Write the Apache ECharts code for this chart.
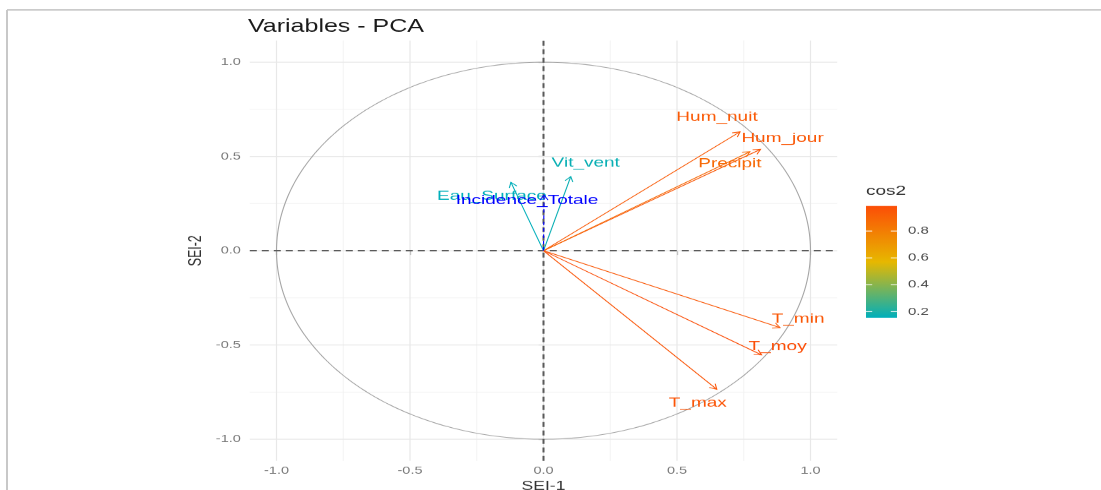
<!DOCTYPE html>
<html>
<head>
<meta charset="utf-8">
<title>Variables - PCA</title>
<script src="https://cdn.jsdelivr.net/npm/echarts@6/dist/echarts.min.js"></script>
<style>
  html, body { margin: 0; padding: 0; background: #fff; overflow: hidden; }
  /* the figure is drawn in an un-squashed frame and flattened vertically,
     so the correlation circle shows as an ellipse */
  #chart { width: 1101px; height: 694px; transform: scaleY(0.706); transform-origin: 0 0; }
</style>
</head>
<body>
<div id="chart"></div>
<script>
// Active variables: coordinates on the first two dimensions and their cos2
const varNames = ['Hum_nuit', 'Hum_jour', 'Precipit', 'Vit_vent', 'Eau_Surface', 'T_min', 'T_moy', 'T_max'];
const dim1 = [0.736, 0.813, 0.773, 0.102, -0.122, 0.886, 0.817, 0.649];
const dim2 = [0.631, 0.538, 0.525, 0.393, 0.363, -0.408, -0.553, -0.735];
const cos2 = [0.94, 0.95, 0.88, 0.17, 0.155, 0.95, 0.986, 0.96];

// Supplementary quantitative variable
const supNames = ['Incidence_Totale'];
const supDim1 = [0.002];
const supDim2 = [0.295];

// Axis breaks and colour-bar ticks
const majorBreaks = [-1.0, -0.5, 0.0, 0.5, 1.0];
const minorBreaks = [-0.75, -0.25, 0.25, 0.75];
const legendTicks = [0.2, 0.4, 0.6, 0.8];
const cosRange = [0.155, 0.986];

// ---- layout / style settings ----
const FONT = '"Liberation Sans", Arial, Helvetica, sans-serif';
const xLimits = [-1.1, 1.1];
const yLimits = [-1.115, 1.115];
const palette = ['#00AFBB', '#E7B800', '#FC4E07'];
const supColor = '#0000FF';
const labelSize = 19;
// label offsets (px) from the arrow tip
const labelNudge = {
  Hum_nuit: [-23, -21], Hum_jour: [22, -16], Precipit: [-20, 17],
  Vit_vent: [15, -19], Eau_Surface: [-19, 20],
  T_min: [18, -12], T_moy: [16, -12], T_max: [-19, 19],
  Incidence_Totale: [-17, 7]
};

const activeData = varNames.map((n, i) => [dim1[i], dim2[i], cos2[i]]);
const supData = supNames.map((n, i) => [supDim1[i], supDim2[i]]);

function arrowShapes(api, x, y, name, color, dashed) {
  const p0 = api.coord([0, 0]);
  const p1 = api.coord([x, y]);
  const ang = Math.atan2(p1[1] - p0[1], p1[0] - p0[0]);
  const L = 8, a = Math.PI / 6;
  const w1 = [p1[0] - L * Math.cos(ang - a), p1[1] - L * Math.sin(ang - a)];
  const w2 = [p1[0] - L * Math.cos(ang + a), p1[1] - L * Math.sin(ang + a)];
  const lineStyle = { stroke: color, lineWidth: 1.1, fill: null };
  if (dashed) lineStyle.lineDash = [5, 4];
  const nudge = labelNudge[name] || [0, 0];
  return [
    { type: 'line', shape: { x1: p0[0], y1: p0[1], x2: p1[0], y2: p1[1] }, style: lineStyle },
    { type: 'polyline', shape: { points: [w1, p1, w2] }, style: { stroke: color, lineWidth: 1.1, fill: null } },
    { type: 'text', x: p1[0] + nudge[0], y: p1[1] + nudge[1],
      style: { text: name, fill: color, font: labelSize + 'px ' + FONT,
               align: 'center', verticalAlign: 'middle',
               textAlign: 'center', textVerticalAlign: 'middle' } }
  ];
}

const chart = echarts.init(document.getElementById('chart'), null, { renderer: 'canvas' });

const option = {
  animation: false,
  backgroundColor: '#ffffff',
  title: {
    text: 'Variables - PCA', left: 248, top: 26, padding: 0,
    textStyle: { fontFamily: FONT, fontSize: 25, fontWeight: 'normal', color: '#1a1a1a' }
  },
  graphic: [
    { type: 'line', shape: { x1: 7, y1: 14, x2: 1101, y2: 14 }, style: { stroke: '#c8c8c8', lineWidth: 2 } },
    { type: 'line', shape: { x1: 7, y1: 14, x2: 7, y2: 694 }, style: { stroke: '#c8c8c8', lineWidth: 2 } },
    { type: 'text', left: 866, top: 261, style: { text: 'cos2', font: '19px ' + FONT, fill: '#333333' } }
  ],
  visualMap: {
    type: 'continuous', show: false, seriesIndex: 3, dimension: 2,
    min: cosRange[0], max: cosRange[1], inRange: { color: palette }
  },
  grid: [
    { left: 249.8, top: 57.4, width: 587.4, height: 595.4, outerBoundsMode: 'none', containLabel: false },
    { left: 866, top: 291.8, width: 31, height: 158.2, outerBoundsMode: 'none', containLabel: false }
  ],
  xAxis: [
    {
      type: 'value', gridIndex: 0, min: xLimits[0], max: xLimits[1],
      name: 'SEI-1', nameLocation: 'middle', nameGap: 27,
      nameTextStyle: { fontFamily: FONT, fontSize: 17.5, color: '#333333', verticalAlign: 'top' },
      axisLine: { show: false },
      axisTick: { show: true, customValues: majorBreaks, length: 6, lineStyle: { color: '#8c8c8c', width: 1.2 } },
      axisLabel: { customValues: majorBreaks, margin: 7, fontFamily: FONT, fontSize: 14.5, color: '#7a7a7a',
                   formatter: v => v.toFixed(1) },
      splitLine: { show: false }
    },
    { type: 'value', gridIndex: 1, min: 0, max: 1, show: false }
  ],
  yAxis: [
    {
      type: 'value', gridIndex: 0, min: yLimits[0], max: yLimits[1],
      name: 'SEI-2', nameLocation: 'middle', nameGap: 45, nameRotate: 90,
      nameTextStyle: { fontFamily: FONT, fontSize: 17.5, color: '#333333' },
      axisLine: { show: false },
      axisTick: { show: true, customValues: majorBreaks, length: 5, lineStyle: { color: '#8c8c8c', width: 1.2 } },
      axisLabel: { customValues: majorBreaks, margin: 9, fontFamily: FONT, fontSize: 14.5, color: '#7a7a7a',
                   formatter: v => v.toFixed(1) },
      splitLine: { show: false }
    },
    {
      type: 'value', gridIndex: 1, min: cosRange[0], max: cosRange[1], position: 'right',
      axisLine: { show: false }, axisTick: { show: false }, splitLine: { show: false },
      axisLabel: { customValues: legendTicks, margin: 11, fontFamily: FONT, fontSize: 15, color: '#4d4d4d',
                   formatter: v => v.toFixed(1) }
    }
  ],
  series: [
    // panel grid lines
    {
      type: 'custom', xAxisIndex: 0, yAxisIndex: 0, silent: true, data: [[0, 0]],
      renderItem: (params, api) => {
        const children = [];
        const add = (vals, color, width) => vals.forEach(v => {
          const a = api.coord([v, yLimits[0]]), b = api.coord([v, yLimits[1]]);
          children.push({ type: 'line', shape: { x1: a[0], y1: a[1], x2: b[0], y2: b[1] }, style: { stroke: color, lineWidth: width } });
          const c = api.coord([xLimits[0], v]), d = api.coord([xLimits[1], v]);
          children.push({ type: 'line', shape: { x1: c[0], y1: c[1], x2: d[0], y2: d[1] }, style: { stroke: color, lineWidth: width } });
        });
        add(minorBreaks, '#f2f2f2', 0.9);
        add(majorBreaks, '#e8e8e8', 1.2);
        return { type: 'group', children };
      }
    },
    // correlation circle
    {
      type: 'custom', xAxisIndex: 0, yAxisIndex: 0, silent: true, data: [[0, 0]],
      renderItem: (params, api) => {
        const pts = [];
        for (let k = 0; k <= 360; k++) {
          const t = k * Math.PI / 180;
          pts.push(api.coord([Math.cos(t), Math.sin(t)]));
        }
        return { type: 'polyline', shape: { points: pts }, style: { stroke: '#a6a6a6', lineWidth: 1.1, fill: null } };
      }
    },
    // dashed zero lines
    {
      type: 'custom', xAxisIndex: 0, yAxisIndex: 0, silent: true, data: [[0, 0]],
      renderItem: (params, api) => {
        const a = api.coord([xLimits[0], 0]), b = api.coord([xLimits[1], 0]);
        const c = api.coord([0, yLimits[0]]), d = api.coord([0, yLimits[1]]);
        const st = { stroke: '#5a5a5a', lineWidth: 2, lineDash: [7, 5] };
        return { type: 'group', children: [
          { type: 'line', shape: { x1: a[0], y1: a[1], x2: b[0], y2: b[1] }, style: st },
          { type: 'line', shape: { x1: c[0], y1: c[1], x2: d[0], y2: d[1] }, style: st }
        ] };
      }
    },
    // active variables, coloured by cos2
    {
      type: 'custom', xAxisIndex: 0, yAxisIndex: 0, silent: true,
      dimensions: ['Dim1', 'Dim2', 'cos2'], encode: { x: 0, y: 1 },
      data: activeData,
      renderItem: (params, api) => ({
        type: 'group',
        children: arrowShapes(api, api.value(0), api.value(1), varNames[params.dataIndex], api.visual('color'), false)
      })
    },
    // supplementary variable
    {
      type: 'custom', xAxisIndex: 0, yAxisIndex: 0, silent: true,
      encode: { x: 0, y: 1 }, data: supData,
      renderItem: (params, api) => ({
        type: 'group',
        children: arrowShapes(api, api.value(0), api.value(1), supNames[params.dataIndex], supColor, true)
      })
    },
    // cos2 colour bar
    {
      type: 'custom', xAxisIndex: 1, yAxisIndex: 1, silent: true, data: [[0, 0]],
      renderItem: (params, api) => {
        const tl = api.coord([0, cosRange[1]]), br = api.coord([1, cosRange[0]]);
        const children = [{
          type: 'rect',
          shape: { x: tl[0], y: tl[1], width: br[0] - tl[0], height: br[1] - tl[1] },
          style: { fill: new echarts.graphic.LinearGradient(0, 1, 0, 0, [
            { offset: 0, color: palette[0] }, { offset: 0.5, color: palette[1] }, { offset: 1, color: palette[2] }
          ]) }
        }];
        const tw = (br[0] - tl[0]) / 5;
        legendTicks.forEach(v => {
          const y = api.coord([0, v])[1];
          children.push({ type: 'line', shape: { x1: tl[0], y1: y, x2: tl[0] + tw, y2: y }, style: { stroke: '#ffffff', lineWidth: 1.2 } });
          children.push({ type: 'line', shape: { x1: br[0] - tw, y1: y, x2: br[0], y2: y }, style: { stroke: '#ffffff', lineWidth: 1.2 } });
        });
        return { type: 'group', children };
      }
    }
  ]
};

chart.setOption(option);
</script>
</body>
</html>
